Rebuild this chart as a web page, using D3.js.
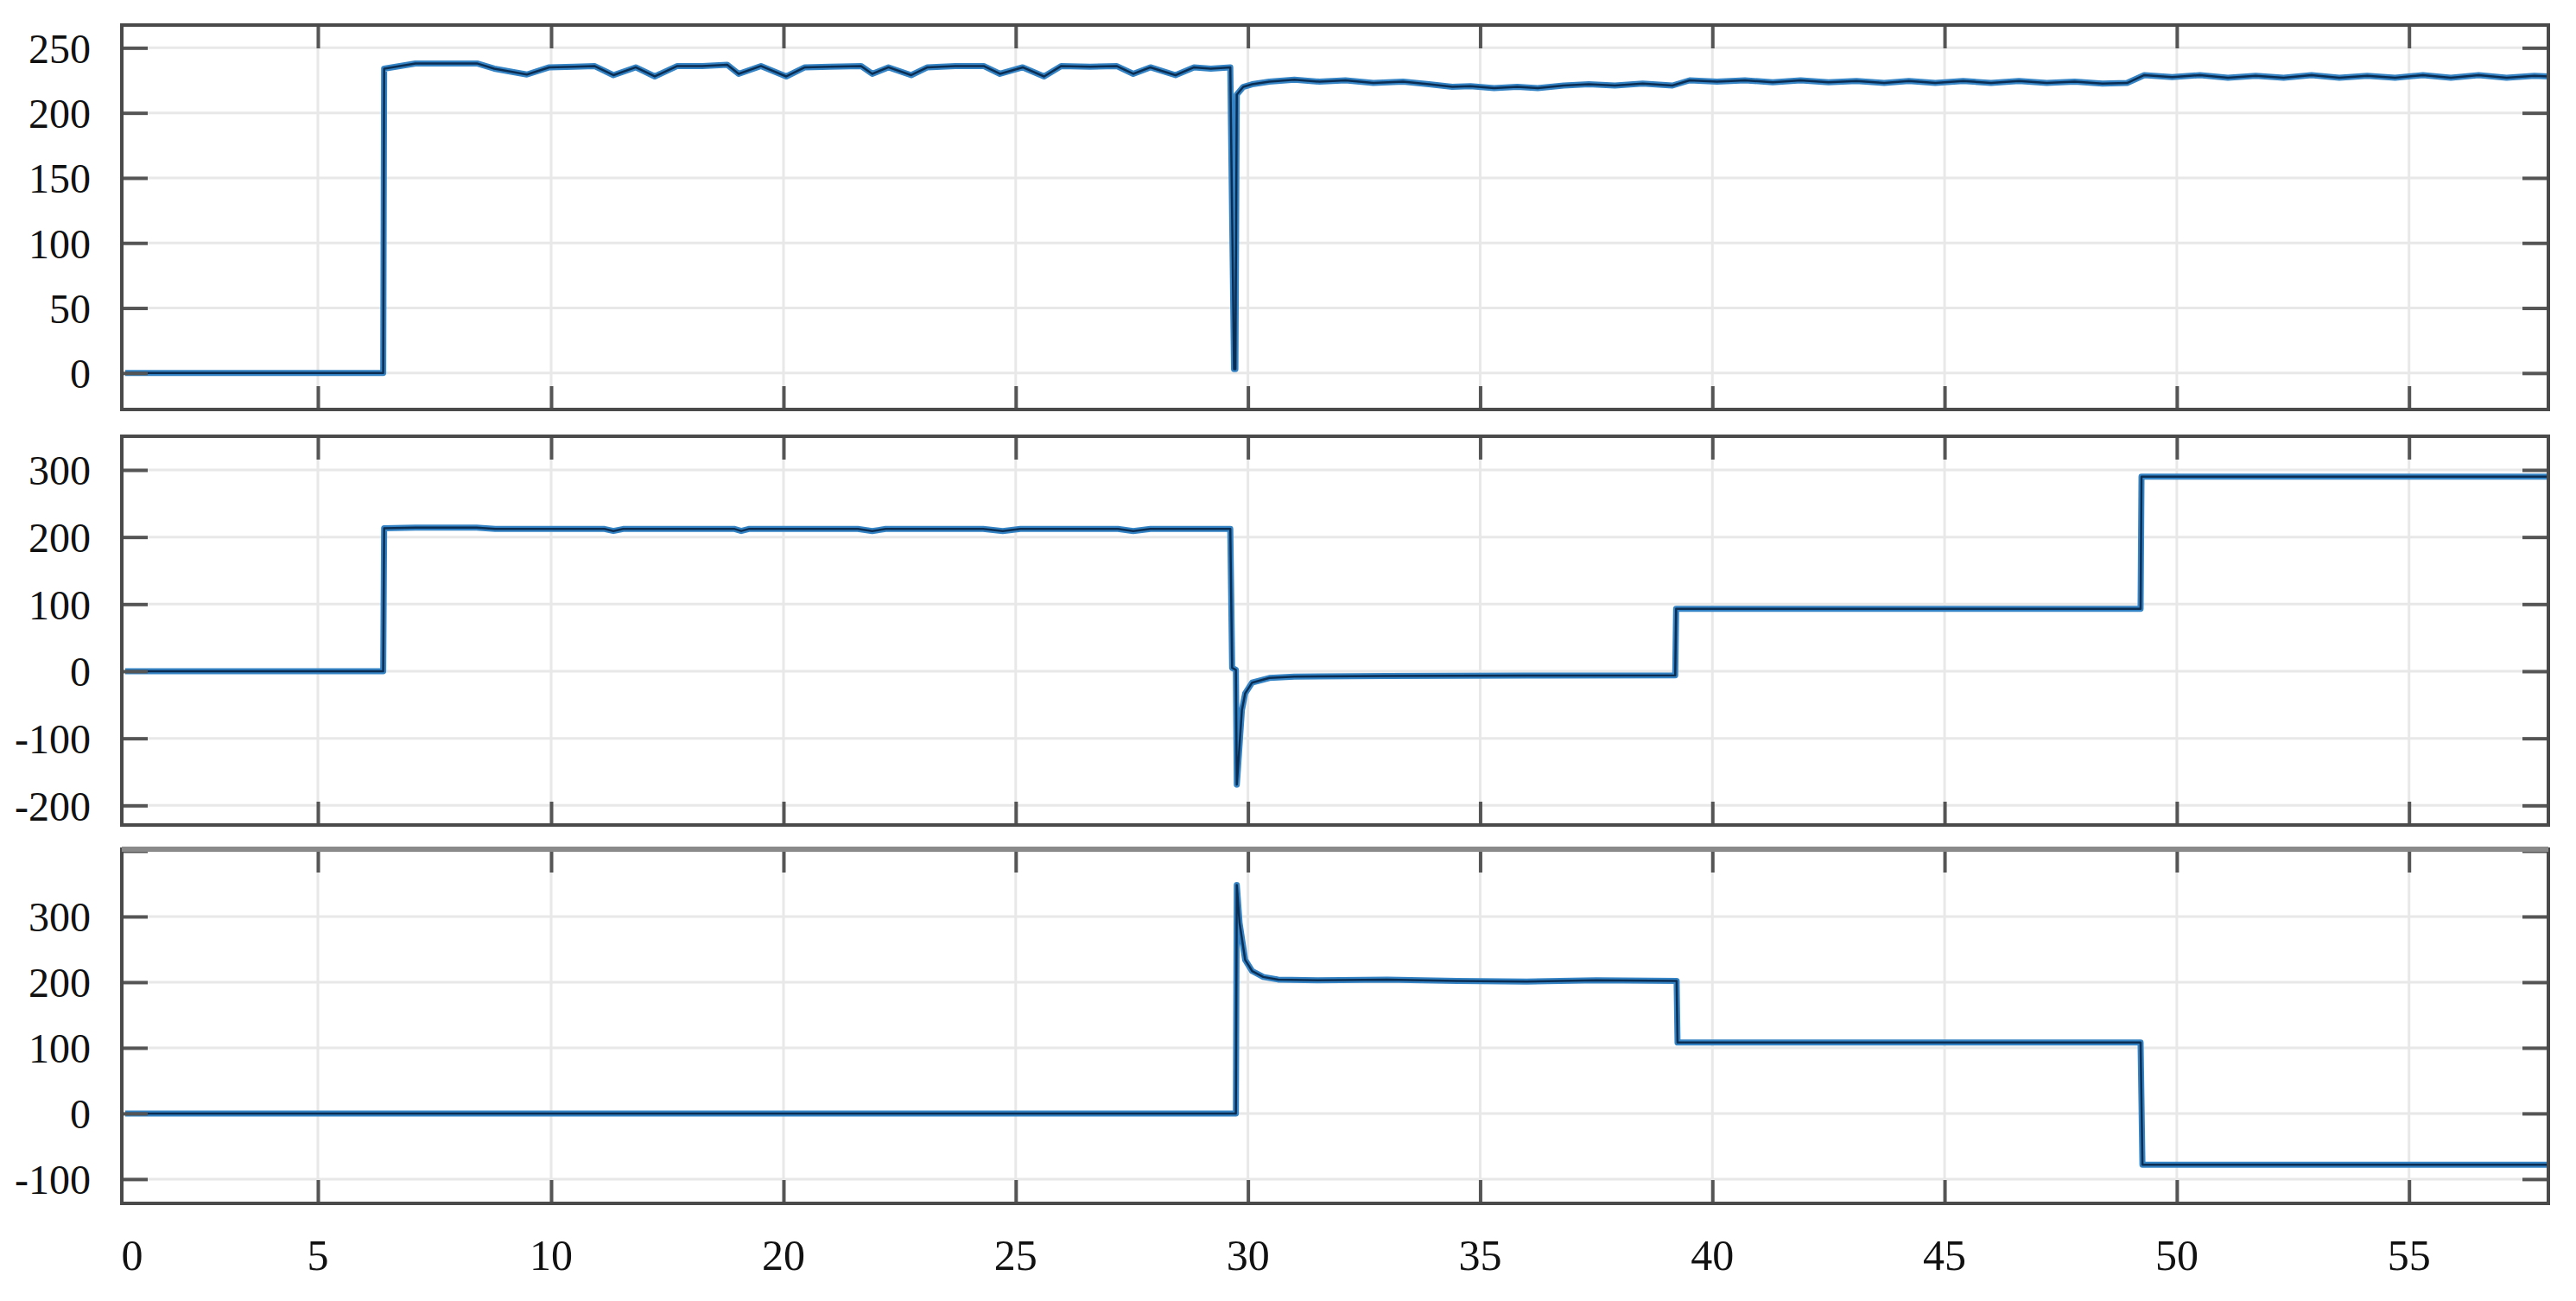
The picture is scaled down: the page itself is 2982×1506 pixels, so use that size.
<!DOCTYPE html>
<html><head><meta charset="utf-8">
<script src="https://cdn.jsdelivr.net/npm/d3@7"></script>
<style>html,body{margin:0;padding:0;background:#fff;}svg{display:block;}</style>
</head><body>
<svg id="chart" width="2982" height="1506"></svg>
<script>
// ---- data ----
const xTickValues = [0, 5, 10, 20, 25, 30, 35, 40, 45, 50, 55];
const yTicks1 = [0, 50, 100, 150, 200, 250];
const yTicks2 = [-200, -100, 0, 100, 200, 300];
const yTicks3 = [-100, 0, 100, 200, 300, 400];

const p1X = [0, 6.40, 6.42, 7.09, 8.41, 8.78, 9.48, 9.96, 11.0, 11.86, 12.68, 13.64, 14.46, 15.43, 16.5, 17.58, 18.07, 19.03, 20.06, 20.46, 21.0, 21.67, 21.91, 22.26, 22.75, 23.10, 23.7, 24.31, 24.66, 25.15, 25.61, 25.98, 26.6, 27.17, 27.53, 27.90, 28.44, 28.84, 29.2, 29.62, 29.66, 29.70, 29.73, 29.76, 29.90, 30.09, 30.46, 31.0, 31.54, 32.1, 32.7, 33.34, 33.9, 34.4, 34.79, 35.3, 35.8, 36.24, 36.8, 37.34, 37.9, 38.5, 39.14, 39.51, 40.1, 40.7, 41.3, 41.9, 42.5, 43.1, 43.7, 44.23, 44.8, 45.4, 46.0, 46.6, 47.2, 47.8, 48.4, 48.93, 49.30, 49.9, 50.5, 51.1, 51.7, 52.3, 52.9, 53.5, 54.1, 54.7, 55.3, 55.9, 56.5, 57.1, 57.7, 58];
const p1Y = [0, 0, 234, 238, 238, 234, 229.5, 235, 235.5, 236, 229, 235, 228, 236, 236, 237, 230, 236, 228, 235, 235.5, 236, 230, 235, 229, 235, 236, 236, 230, 235, 228, 236, 235.5, 236, 230, 235, 229, 235, 234, 235, 120, 3, 3, 214, 220, 222, 224, 225.5, 224, 225, 223, 224, 222, 220, 220.5, 219, 220, 219, 221, 222, 221, 222.5, 221, 225, 224, 225, 223.5, 225, 223.5, 224.5, 223, 224.5, 223, 224.5, 223, 224.5, 223, 224, 222.5, 223, 229, 227.5, 229, 227, 228.5, 227, 229, 227, 228.5, 227, 229, 227, 229, 227, 228.5, 228];

const p2X = [0, 6.40, 6.42, 7.09, 8.4, 8.8, 10.0, 11.86, 12.3, 12.68, 13.1, 15.43, 17.58, 17.9, 18.18, 18.5, 21.0, 21.6, 21.91, 22.2, 24.3, 24.72, 25.1, 27.2, 27.53, 27.9, 29.62, 29.66, 29.74, 29.76, 29.78, 29.87, 29.94, 30.09, 30.46, 31.0, 33.0, 36.0, 39.20, 39.22, 42.0, 46.0, 49.22, 49.24, 58];
const p2Y = [0, 0, 213, 214, 214, 212, 212, 212, 212, 209, 212, 212, 212, 212, 209, 212, 212, 212, 209, 212, 212, 209, 212, 212, 209, 212, 212, 5, 2, -169, -150, -58, -33, -17, -10, -8, -7, -6.5, -6, 93, 93, 93, 93, 290, 290];

const p3X = [0, 29.74, 29.76, 29.82, 29.94, 30.09, 30.33, 30.65, 31.5, 33.0, 34.5, 36.0, 37.5, 39.23, 39.25, 44.0, 49.22, 49.26, 52.0, 55.0, 58];
const p3Y = [0, 0, 348, 290, 234, 217, 208, 204, 203, 204, 202, 201, 203, 202, 108, 108, 108, -78, -78, -78, -78];

// ---- layout ----
const svg = d3.select('#chart');
const left = 141, right = 2950;
const x = d3.scaleLinear().domain([0, 5, 10, 20, 58]).range([145, 368, 638, 907, right]);

const panels = [
  {top: 29,  bottom: 474,  domain: [-28, 267.5], ticks: yTicks1, xs: p1X, ys: p1Y},
  {top: 505, bottom: 955,  domain: [-229.2, 350.2], ticks: yTicks2, xs: p2X, ys: p2Y},
  {top: 983, bottom: 1393, domain: [-137, 402.6], ticks: yTicks3, xs: p3X, ys: p3Y}
];

const gridColor = '#e8e8e8', axisColor = '#4a4a4a', tickColor = '#555';
const fontFam = '"Liberation Serif", "DejaVu Serif", serif';

panels.forEach((p, i) => {
  const y = d3.scaleLinear().domain(p.domain).range([p.bottom, p.top]);
  const g = svg.append('g');
  const h = p.bottom - p.top, w = right - left;

  // grid
  g.append('g').selectAll('line').data(xTickValues.filter(v => v !== 0)).join('line')
    .attr('x1', d => x(d)).attr('x2', d => x(d)).attr('y1', p.top).attr('y2', p.bottom)
    .attr('stroke', gridColor).attr('stroke-width', 3);
  g.append('g').selectAll('line').data(p.ticks).join('line')
    .attr('x1', left).attr('x2', right).attr('y1', d => y(d)).attr('y2', d => y(d))
    .attr('stroke', gridColor).attr('stroke-width', 3);

  // line (blue under, dark navy over)
  const pts = p.xs.map((v, k) => [v, p.ys[k]]);
  const line = d3.line().x(d => x(d[0])).y(d => y(d[1]));
  g.append('path').datum(pts).attr('d', line).attr('fill', 'none')
    .attr('stroke', '#3483c4').attr('stroke-width', 7).attr('stroke-linejoin', 'round');
  g.append('path').datum(pts).attr('d', line).attr('fill', 'none')
    .attr('stroke', '#0c2d52').attr('stroke-width', 2.5).attr('stroke-linejoin', 'round');

  // axes with inward ticks
  const xt = xTickValues.filter(v => v !== 0);
  const bottomAxis = d3.axisBottom(x).tickValues(xt).tickSize(-27).tickFormat('');
  const topAxis = d3.axisTop(x).tickValues(xt).tickSize(-27).tickFormat('');
  const leftAxis = d3.axisLeft(y).tickValues(p.ticks).tickSize(-30).tickFormat('');
  const rightAxis = d3.axisRight(y).tickValues(p.ticks).tickSize(-30).tickFormat('');
  [[bottomAxis, `translate(0,${p.bottom})`], [topAxis, `translate(0,${p.top})`],
   [leftAxis, `translate(${left},0)`], [rightAxis, `translate(${right},0)`]].forEach(([ax, tr]) => {
    const a = g.append('g').attr('transform', tr).call(ax);
    a.select('.domain').remove();
    a.selectAll('.tick line').attr('stroke', tickColor).attr('stroke-width', 4);
  });

  // frame
  g.append('rect').attr('x', left).attr('y', p.top).attr('width', w).attr('height', h)
    .attr('fill', 'none').attr('stroke', axisColor).attr('stroke-width', 4);
  if (i === 2) {
    g.append('line').attr('x1', left).attr('x2', right).attr('y1', p.top).attr('y2', p.top)
      .attr('stroke', '#8a8a8a').attr('stroke-width', 6);
  }

  // y labels
  g.append('g').selectAll('text').data(p.ticks.filter(v => y(v) > p.top + 10)).join('text')
    .attr('x', 105).attr('y', d => y(d)).attr('dy', '0.36em')
    .attr('text-anchor', 'end').attr('font-family', fontFam).attr('font-size', 48)
    .attr('fill', '#111').text(d => d);
});

// x labels
svg.append('g').selectAll('text').data(xTickValues).join('text')
  .attr('x', d => x(d) + (d === 0 ? 8 : 0)).attr('y', 1470)
  .attr('text-anchor', 'middle').attr('font-family', fontFam).attr('font-size', 50)
  .attr('fill', '#111').text(d => d);
</script>
</body></html>
